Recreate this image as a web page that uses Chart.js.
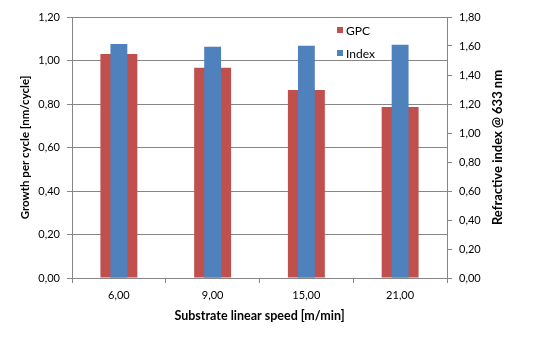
<!DOCTYPE html>
<html>
<head>
<meta charset="utf-8">
<script src="https://cdn.jsdelivr.net/npm/chart.js@4/dist/chart.umd.min.js"></script>
<style>
  body { margin: 0; background: #fff; }
  canvas { display: block; }
</style>
</head>
<body>
<canvas id="speedChart" width="550" height="342"></canvas>
<script>
const speeds = ['6,00', '9,00', '15,00', '21,00'];
const gpc = [1.03, 0.967, 0.864, 0.786];
const refIndex = [1.614, 1.595, 1.602, 1.609];

const FONT = 'Lato, "Open Sans", sans-serif';
const GRID = '#868686';
const RED = '#C0504D';
const BLUE = '#4F81BD';

const commaFmt = v => v.toFixed(2).replace('.', ',');

// legend drawn inside the plot, stacked vertically, plus the right axis title
// which reads bottom-to-top like the left one
const extras = {
    id: 'extras',
    afterDraw(chart) {
        const c = chart.ctx;
        const area = chart.chartArea;
        c.save();
        c.font = '12px ' + FONT;
        c.textBaseline = 'middle';
        chart.data.datasets.forEach((ds, i) => {
            const x = area.right - 110;
            const y = 30 + i * 23;
            c.fillStyle = ds.backgroundColor;
            c.fillRect(x, y - 3, 6, 6);
            c.fillStyle = '#000';
            c.fillText(ds.label, x + 9, y + 1);
        });
        c.font = 'bold 13px ' + FONT;
        c.textAlign = 'center';
        c.translate(area.right + 51, (area.top + area.bottom) / 2);
        c.rotate(-Math.PI / 2);
        c.fillText('Refractive index @ 633 nm', 0, 0);
        c.restore();
    }
};

new Chart(document.getElementById('speedChart'), {
    type: 'bar',
    data: {
        labels: speeds,
        datasets: [
            {
                label: 'GPC',
                data: gpc,
                backgroundColor: RED,
                yAxisID: 'y',
                grouped: false,
                order: 2,
                categoryPercentage: 1,
                barPercentage: 0.394
            },
            {
                label: 'Index',
                data: refIndex,
                backgroundColor: BLUE,
                yAxisID: 'y1',
                grouped: false,
                order: 1,
                categoryPercentage: 1,
                barPercentage: 0.18
            }
        ]
    },
    options: {
        responsive: false,
        animation: false,
        layout: { padding: { top: 17, left: 0, right: 0, bottom: 0 } },
        plugins: {
            legend: { display: false },
            tooltip: { enabled: false }
        },
        scales: {
            x: {
                offset: true,
                afterFit: s => { s.height = 64; },
                grid: {
                    offset: true,
                    drawOnChartArea: false,
                    color: GRID,
                    tickLength: 5
                },
                border: { color: GRID },
                ticks: { color: '#000', font: { family: FONT, size: 11 }, padding: 6 },
                title: {
                    display: true,
                    text: 'Substrate linear speed [m/min]',
                    color: '#000',
                    font: { family: FONT, size: 12.5, weight: 'bold' },
                    padding: { top: 0, bottom: 19 }
                }
            },
            y: {
                position: 'left',
                min: 0,
                max: 1.2,
                afterFit: s => { s.width = 72; },
                grid: { color: GRID, tickLength: 5 },
                border: { color: GRID },
                ticks: {
                    stepSize: 0.2,
                    color: '#000',
                    font: { family: FONT, size: 11 },
                    padding: 7,
                    callback: v => commaFmt(v)
                },
                title: {
                    display: true,
                    text: 'Growth per cycle [nm/cycle]',
                    color: '#000',
                    font: { family: FONT, size: 11.5, weight: 'bold' },
                    padding: { top: 18, bottom: 0 }
                }
            },
            y1: {
                position: 'right',
                min: 0,
                max: 1.8,
                afterFit: s => { s.width = 103; },
                grid: { drawOnChartArea: false, color: GRID, tickLength: 5 },
                border: { color: GRID },
                ticks: {
                    stepSize: 0.2,
                    color: '#000',
                    font: { family: FONT, size: 11 },
                    padding: 7,
                    callback: v => commaFmt(v)
                }
            }
        }
    },
    plugins: [extras]
});
</script>
</body>
</html>
